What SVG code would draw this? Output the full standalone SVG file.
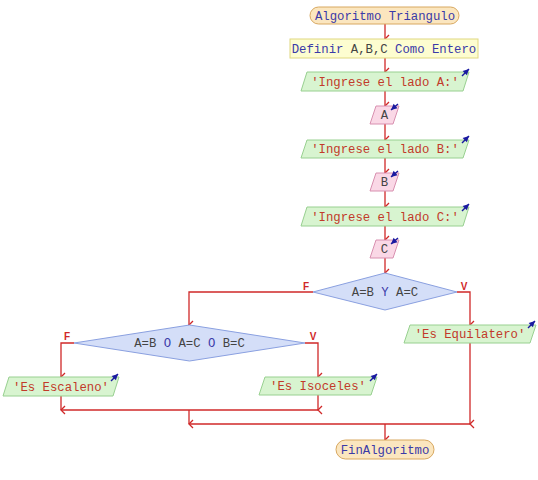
<svg xmlns="http://www.w3.org/2000/svg" width="538" height="480" viewBox="0 0 538 480">
<defs>
<marker id="ah" markerWidth="10" markerHeight="10" refX="5" refY="8" orient="auto" markerUnits="userSpaceOnUse" viewBox="0 0 10 10">
<polyline points="1,4 5,8 9,4" fill="none" stroke="#d02828" stroke-width="1.3"/>
</marker>
<marker id="bh" markerWidth="8" markerHeight="8" refX="7" refY="4" orient="auto" markerUnits="userSpaceOnUse" viewBox="0 0 8 8">
<path d="M1,1 L7,4 L1,7 Z" fill="#1a1aa0"/>
</marker>
</defs>
<style>
text{font-family:"Liberation Mono","DejaVu Sans Mono",monospace;font-size:12.3px;text-anchor:middle}
.term{fill:#fbe6bf;stroke:#d8a860;stroke-width:1}
.def{fill:#fdfdd0;stroke:#e0d880;stroke-width:1}
.out{fill:#d8f4d0;stroke:#98d090;stroke-width:1}
.inp{fill:#fad8e6;stroke:#d890b0;stroke-width:1}
.dec{fill:#d4def8;stroke:#8aa0e0;stroke-width:1}
.ln{fill:none;stroke:#d02828;stroke-width:1.3}
.ba{fill:none;stroke:#1a1aa0;stroke-width:1.4}
.tb{fill:#3a3aa8}
.tr{fill:#c23a2a}
.tk{fill:#444444}
.lbl{font-family:"Liberation Sans",Arial,sans-serif;font-size:10px;font-weight:bold;fill:#d02828}
</style>
<g id="connectors">
<path class="ln" d="M385,24 V39" marker-end="url(#ah)"/>
<path class="ln" d="M385,58 V72" marker-end="url(#ah)"/>
<path class="ln" d="M385,91 V106" marker-end="url(#ah)"/>
<path class="ln" d="M385,124 V140" marker-end="url(#ah)"/>
<path class="ln" d="M385,158 V173" marker-end="url(#ah)"/>
<path class="ln" d="M385,191 V207" marker-end="url(#ah)"/>
<path class="ln" d="M385,226 V240" marker-end="url(#ah)"/>
<path class="ln" d="M385,258 V273" marker-end="url(#ah)"/>
<path class="ln" d="M313,292 H189 V325" marker-end="url(#ah)"/>
<path class="ln" d="M457,292 H470 V325" marker-end="url(#ah)"/>
<path class="ln" d="M74,343 H61 V377" marker-end="url(#ah)"/>
<path class="ln" d="M305,343 H318 V377" marker-end="url(#ah)"/>
<path class="ln" d="M61,396 V410" marker-end="url(#ah)"/>
<path class="ln" d="M318,395 V410" marker-end="url(#ah)"/>
<path class="ln" d="M61,410 H318"/>
<path class="ln" d="M189,410 V424" marker-end="url(#ah)"/>
<path class="ln" d="M470,343 V424" marker-end="url(#ah)"/>
<path class="ln" d="M189,424 H470"/>
<path class="ln" d="M385,424 V440" marker-end="url(#ah)"/>
<text class="lbl" x="306" y="290">F</text>
<text class="lbl" x="464" y="290">V</text>
<text class="lbl" x="67" y="340">F</text>
<text class="lbl" x="313" y="340">V</text>
</g>
<g id="start">
<rect class="term" x="310" y="7" width="149" height="17" rx="8.5"/>
<text class="tb" x="385" y="20">Algoritmo Triangulo</text>
</g>
<g id="definir">
<rect class="def" x="290" y="39" width="188" height="19"/>
<text x="384" y="53"><tspan class="tb">Definir </tspan><tspan class="tk">A,B,C </tspan><tspan class="tb">Como Entero</tspan></text>
</g>
<g id="out_a">
<polygon class="out" points="307,72 469,72 463,91 301,91"/>
<text class="tr" x="385" y="86">'Ingrese el lado A:'</text>
<path class="ba" d="M462,76 L469,69" marker-end="url(#bh)"/>
</g>
<g id="in_a">
<polygon class="inp" points="376,106 399,106 393,124 370,124"/>
<text class="tk" x="384.5" y="119">A</text>
<path class="ba" d="M398,104 L391,110" marker-end="url(#bh)"/>
</g>
<g id="out_b">
<polygon class="out" points="307,140 469,140 463,158 301,158"/>
<text class="tr" x="385" y="153">'Ingrese el lado B:'</text>
<path class="ba" d="M462,143 L469,136" marker-end="url(#bh)"/>
</g>
<g id="in_b">
<polygon class="inp" points="376,173 399,173 393,191 370,191"/>
<text class="tk" x="384.5" y="186">B</text>
<path class="ba" d="M398,171 L391,177" marker-end="url(#bh)"/>
</g>
<g id="out_c">
<polygon class="out" points="307,207 469,207 463,226 301,226"/>
<text class="tr" x="385" y="221">'Ingrese el lado C:'</text>
<path class="ba" d="M462,211 L469,204" marker-end="url(#bh)"/>
</g>
<g id="in_c">
<polygon class="inp" points="376,240 399,240 393,258 370,258"/>
<text class="tk" x="384.5" y="253">C</text>
<path class="ba" d="M398,238 L391,244" marker-end="url(#bh)"/>
</g>
<g id="dec1">
<polygon class="dec" points="385,273 457,292 385,310 313,292"/>
<text x="385" y="296"><tspan class="tk">A=B </tspan><tspan class="tb">Y</tspan><tspan class="tk"> A=C</tspan></text>
</g>
<g id="dec2">
<polygon class="dec" points="189.5,325 305,343 189.5,361 74,343"/>
<text x="189.5" y="347"><tspan class="tk">A=B </tspan><tspan class="tb">O</tspan><tspan class="tk"> A=C </tspan><tspan class="tb">O</tspan><tspan class="tk"> B=C</tspan></text>
</g>
<g id="out_equi">
<polygon class="out" points="410,325 536,325 530,343 404,343"/>
<text class="tr" x="470" y="338">'Es Equilatero'</text>
<path class="ba" d="M528,328 L535,321" marker-end="url(#bh)"/>
</g>
<g id="out_esc">
<polygon class="out" points="9,377 119,377 113,396 3,396"/>
<text class="tr" x="61" y="391">'Es Escaleno'</text>
<path class="ba" d="M111,381 L118,374" marker-end="url(#bh)"/>
</g>
<g id="out_iso">
<polygon class="out" points="265,377 377,377 371,395 259,395"/>
<text class="tr" x="318" y="390">'Es Isoceles'</text>
<path class="ba" d="M370,381 L377,374" marker-end="url(#bh)"/>
</g>
<g id="end">
<rect class="term" x="336" y="440" width="98" height="19" rx="9.5"/>
<text class="tb" x="385" y="454">FinAlgoritmo</text>
</g>
</svg>
